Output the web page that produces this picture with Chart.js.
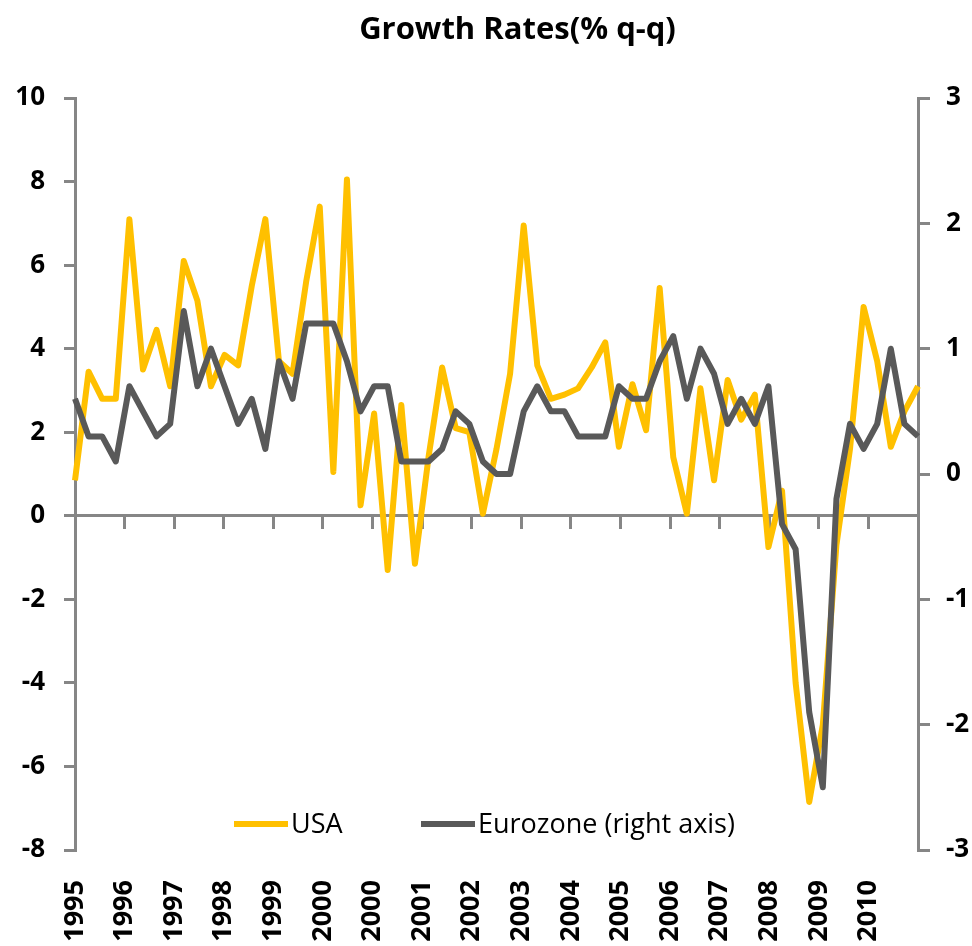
<!DOCTYPE html>
<html>
<head>
<meta charset="utf-8">
<script src="https://cdn.jsdelivr.net/npm/chart.js@4.4.1/dist/chart.umd.min.js"></script>
<style>
  html, body { margin: 0; padding: 0; background: #ffffff; }
  #wrap { width: 972px; height: 946px; }
</style>
</head>
<body>
<div id="wrap"><canvas id="c" width="972" height="946"></canvas></div>
<script>
const TITLE = 'Growth Rates(% q-q)';

const quarters = [
  '1995Q2','1995Q3','1995Q4',
  '1996Q1','1996Q2','1996Q3','1996Q4',
  '1997Q1','1997Q2','1997Q3','1997Q4',
  '1998Q1','1998Q2','1998Q3','1998Q4',
  '1999Q1','1999Q2','1999Q3','1999Q4',
  '2000Q1','2000Q2','2000Q3','2000Q4',
  '2001Q1','2001Q2','2001Q3','2001Q4',
  '2002Q1','2002Q2','2002Q3','2002Q4',
  '2003Q1','2003Q2','2003Q3','2003Q4',
  '2004Q1','2004Q2','2004Q3','2004Q4',
  '2005Q1','2005Q2','2005Q3','2005Q4',
  '2006Q1','2006Q2','2006Q3','2006Q4',
  '2007Q1','2007Q2','2007Q3','2007Q4',
  '2008Q1','2008Q2','2008Q3','2008Q4',
  '2009Q1','2009Q2','2009Q3','2009Q4',
  '2010Q1','2010Q2','2010Q3','2010Q4'
];

const yearLabels = ['1995','1996','1997','1998','1999','2000','2000','2001','2002',
  '2003','2004','2005','2006','2007','2008','2009','2010',''];

const usa = [0.85, 3.45, 2.8, 2.8, 7.1, 3.5, 4.45, 3.1, 6.1, 5.15, 3.1, 3.85, 3.6, 5.5,
  7.1, 3.7, 3.4, 5.6, 7.4, 1.05, 8.05, 0.25, 2.45, -1.3, 2.65, -1.15, 1.4, 3.55, 2.1,
  2.0, 0.05, 1.6, 3.4, 6.95, 3.6, 2.8, 2.9, 3.05, 3.55, 4.15, 1.65, 3.15, 2.05, 5.45,
  1.4, 0.05, 3.05, 0.85, 3.25, 2.3, 2.9, -0.75, 0.6, -4.0, -6.85, -5.0, -0.7, 1.6,
  5.0, 3.7, 1.65, 2.5, 3.1];

const eurozone = [0.6, 0.3, 0.3, 0.1, 0.7, 0.5, 0.3, 0.4, 1.3, 0.7, 1.0, 0.7, 0.4, 0.6,
  0.2, 0.9, 0.6, 1.2, 1.2, 1.2, 0.9, 0.5, 0.7, 0.7, 0.1, 0.1, 0.1, 0.2, 0.5, 0.4, 0.1,
  0.0, 0.0, 0.5, 0.7, 0.5, 0.5, 0.3, 0.3, 0.3, 0.7, 0.6, 0.6, 0.9, 1.1, 0.6, 1.0, 0.8,
  0.4, 0.6, 0.4, 0.7, -0.4, -0.6, -1.9, -2.5, -0.2, 0.4, 0.2, 0.4, 1.0, 0.4, 0.3];

const seriesNames = ['USA', 'Eurozone (right axis)'];
const colors = { usa: '#FFC000', euro: '#595959', axis: '#868686', text: '#000000' };
const FONT = '"Open Sans", "DejaVu Sans", sans-serif';

const titlePlugin = {
  id: 'customTitle',
  afterDraw(chart) {
    const { ctx, chartArea } = chart;
    ctx.save();
    ctx.font = 'bold 31px ' + FONT;
    ctx.fillStyle = colors.text;
    ctx.textAlign = 'center';
    ctx.textBaseline = 'alphabetic';
    ctx.fillText(TITLE, (chartArea.left + chartArea.right) / 2 + 21, 39);
    ctx.restore();
  }
};

const legendPlugin = {
  id: 'customLegend',
  afterDraw(chart) {
    const { ctx, chartArea } = chart;
    const items = [
      { ds: chart.data.datasets[1], x: chartArea.left + 159 },
      { ds: chart.data.datasets[0], x: chartArea.left + 346 }
    ];
    const y = 824;
    ctx.save();
    ctx.font = '27px ' + FONT;
    ctx.textBaseline = 'middle';
    ctx.textAlign = 'left';
    items.forEach(it => {
      ctx.strokeStyle = it.ds.borderColor;
      ctx.lineWidth = 6;
      ctx.lineCap = 'butt';
      ctx.beginPath();
      ctx.moveTo(it.x, y);
      ctx.lineTo(it.x + 54, y);
      ctx.stroke();
      ctx.fillStyle = colors.text;
      ctx.fillText(it.ds.label, it.x + 57, y + 1);
    });
    ctx.restore();
  }
};

new Chart(document.getElementById('c'), {
  type: 'line',
  data: {
    datasets: [
      {
        label: seriesNames[1],
        data: eurozone,
        yAxisID: 'y1',
        borderColor: colors.euro,
        backgroundColor: colors.euro,
        borderWidth: 6,
        borderJoinStyle: 'round',
        pointRadius: 0,
        tension: 0,
        order: 1
      },
      {
        label: seriesNames[0],
        data: usa,
        yAxisID: 'y',
        borderColor: colors.usa,
        backgroundColor: colors.usa,
        borderWidth: 6,
        borderJoinStyle: 'round',
        pointRadius: 0,
        tension: 0,
        order: 2
      }
    ]
  },
  options: {
    responsive: false,
    animation: false,
    layout: { padding: { top: 98, left: 0, right: 0, bottom: 0 } },
    plugins: {
      legend: { display: false },
      title: { display: false },
      tooltip: { enabled: false }
    },
    scales: {
      x: {
        type: 'category',
        labels: quarters,
        display: false,
        offset: false
      },
      xYears: {
        type: 'category',
        labels: yearLabels,
        position: 'bottom',
        offset: false,
        grid: { display: false, drawTicks: false },
        border: { display: false },
        ticks: {
          autoSkip: false,
          maxRotation: 90,
          minRotation: 90,
          padding: 30,
          color: colors.text,
          font: { family: FONT, size: 27, weight: 'bold' }
        },
        afterFit(scale) {
          scale.height = 96;
          scale.paddingLeft = 0;
          scale.paddingRight = 0;
        }
      },
      xZero: {
        type: 'category',
        labels: yearLabels,
        position: { y: 0 },
        offset: false,
        ticks: { display: false },
        grid: {
          drawOnChartArea: false,
          drawTicks: true,
          tickLength: 12,
          color: colors.axis,
          lineWidth: 3
        },
        border: { display: true, color: colors.axis, width: 3 },
        afterFit(scale) {
          scale.paddingLeft = 0;
          scale.paddingRight = 0;
        }
      },
      y: {
        type: 'linear',
        position: 'left',
        min: -8,
        max: 10,
        ticks: {
          stepSize: 2,
          padding: 19,
          color: colors.text,
          font: { family: FONT, size: 26, weight: 'bold' }
        },
        grid: {
          drawOnChartArea: false,
          drawTicks: true,
          tickLength: 11,
          color: colors.axis,
          lineWidth: 3
        },
        border: { display: true, color: colors.axis, width: 3 },
        afterFit(scale) { scale.width = 75; }
      },
      y1: {
        type: 'linear',
        position: 'right',
        min: -3,
        max: 3,
        ticks: {
          stepSize: 1,
          padding: 16,
          color: colors.text,
          font: { family: FONT, size: 26, weight: 'bold' }
        },
        grid: {
          drawOnChartArea: false,
          drawTicks: true,
          tickLength: 12,
          color: colors.axis,
          lineWidth: 3
        },
        border: { display: true, color: colors.axis, width: 3 },
        afterFit(scale) { scale.width = 54; }
      }
    }
  },
  plugins: [titlePlugin, legendPlugin]
});
</script>
</body>
</html>
